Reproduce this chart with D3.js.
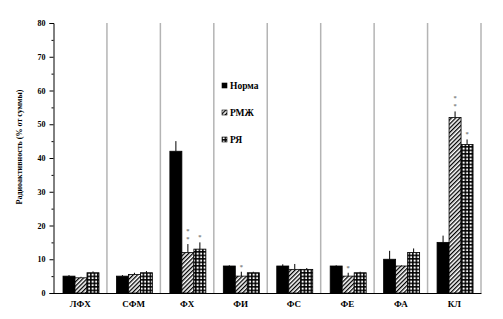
<!DOCTYPE html>
<html>
<head>
<meta charset="utf-8">
<script src="https://cdn.jsdelivr.net/npm/d3@7"></script>
<style>
  body { margin: 0; background: #fff; }
  svg text { font-family: "Liberation Serif", "Times New Roman", serif !important; font-weight: bold; }
</style>
</head>
<body>
<svg id="chart"></svg>
<script>
// data
const categories = ['ЛФХ', 'СФМ', 'ФХ', 'ФИ', 'ФС', 'ФЕ', 'ФА', 'КЛ'];
const seriesNames = ['Норма', 'РМЖ', 'РЯ'];
const norma    = [5, 5, 42, 8, 8, 8, 10, 15];
const normaErr = [0.3, 0.3, 3, 0.2, 0.5, 0.2, 2.5, 2];
const rmzh     = [4.5, 5.5, 12, 5, 7, 5, 8, 52];
const rmzhErr  = [0.3, 0.5, 2.5, 1.3, 1.6, 1, 0.2, 1.8];
const rya      = [6, 6, 13, 6, 7, 6, 12, 44];
const ryaErr   = [0.4, 0.5, 2, 0.3, 0.4, 0.3, 1.2, 1.5];
const rmzhStars = [0, 0, 2, 1, 0, 1, 0, 2];
const ryaStars  = [0, 0, 1, 0, 0, 0, 0, 1];
const yTicks = [0, 10, 20, 30, 40, 50, 60, 70, 80];

const W = 503, H = 319;
const margin = { top: 23, bottom: 26, left: 53.5, right: 22 };

const svg = d3.select('#chart').attr('width', W).attr('height', H)
  .attr('font-family', '"Liberation Serif", serif');

// patterns for the bars
const defs = svg.append('defs');
const hatch = defs.append('pattern').attr('id', 'hatch')
  .attr('patternUnits', 'userSpaceOnUse').attr('width', 3).attr('height', 3)
  .attr('patternTransform', 'rotate(45)');
hatch.append('rect').attr('width', 3).attr('height', 3).attr('fill', '#fff');
hatch.append('rect').attr('width', 1.3).attr('height', 3).attr('fill', '#000');

const dots = defs.append('pattern').attr('id', 'dots')
  .attr('patternUnits', 'userSpaceOnUse').attr('width', 3.5).attr('height', 3.5);
dots.append('rect').attr('width', 3.5).attr('height', 3.5).attr('fill', '#000');
dots.append('rect').attr('x', 0.6).attr('y', 0.6).attr('width', 2).attr('height', 2).attr('fill', '#fff');

const fills = ['#000', 'url(#hatch)', 'url(#dots)'];

const x = d3.scaleBand().domain(categories).range([margin.left, W - margin.right]);
const xSub = d3.scaleBand().domain(seriesNames).range([9.5, 45.5]);
const y = d3.scaleLinear().domain([0, 80]).range([H - margin.bottom, margin.top]);

// vertical separators
svg.append('g').selectAll('line')
  .data(categories)
  .join('line')
    .attr('x1', d => x(d) + x.bandwidth())
    .attr('x2', d => x(d) + x.bandwidth())
    .attr('y1', y(80))
    .attr('y2', y(0))
    .attr('stroke', '#b4b4b4')
    .attr('stroke-width', 1.5);

const rows = [
  { vals: norma, err: normaErr, stars: null },
  { vals: rmzh, err: rmzhErr, stars: rmzhStars },
  { vals: rya, err: ryaErr, stars: ryaStars }
];

const bars = [];
rows.forEach((r, si) => {
  categories.forEach((c, ci) => {
    bars.push({ cat: c, s: seriesNames[si], si: si, v: r.vals[ci], e: r.err[ci], n: r.stars ? r.stars[ci] : 0 });
  });
});

const g = svg.append('g');

// error bars (upper half only)
g.selectAll('.err')
  .data(bars)
  .join('line')
    .attr('class', 'err')
    .attr('x1', d => x(d.cat) + xSub(d.s) + xSub.bandwidth() / 2)
    .attr('x2', d => x(d.cat) + xSub(d.s) + xSub.bandwidth() / 2)
    .attr('y1', d => y(d.v))
    .attr('y2', d => y(d.v + d.e))
    .attr('stroke', '#000')
    .attr('stroke-width', 1);

g.selectAll('.bar')
  .data(bars)
  .join('rect')
    .attr('class', 'bar')
    .attr('x', d => x(d.cat) + xSub(d.s))
    .attr('y', d => y(d.v))
    .attr('width', xSub.bandwidth())
    .attr('height', d => y(0) - y(d.v))
    .attr('fill', d => fills[d.si])
    .attr('stroke', '#000')
    .attr('stroke-width', 0.8);

// asterisks
const stars = [];
bars.forEach(d => { for (let k = 0; k < d.n; k++) stars.push({ d: d, k: k }); });
g.selectAll('.star')
  .data(stars)
  .join('text')
    .attr('class', 'star')
    .attr('x', s => x(s.d.cat) + xSub(s.d.s) + xSub.bandwidth() / 2)
    .attr('y', s => y(s.d.v + s.d.e) - 3 - s.k * 8)
    .attr('text-anchor', 'middle')
    .attr('font-size', 6.5)
    .attr('fill', '#808080')
    .text('*');

// y axis
const yAxis = svg.append('g')
  .attr('transform', `translate(${margin.left},0)`)
  .call(d3.axisLeft(y).tickValues(yTicks).tickSize(4).tickPadding(4));
yAxis.attr('font-family', null);
yAxis.select('.domain').attr('stroke', '#000');
yAxis.selectAll('text').attr('font-size', 8);
svg.append('g')
  .attr('transform', `translate(${margin.left},0)`)
  .call(d3.axisLeft(y).tickValues(d3.range(5, 80, 10)).tickSize(2).tickFormat(''))
  .select('.domain').remove();

// x axis
const xAxis = svg.append('g')
  .attr('transform', `translate(0,${y(0)})`)
  .call(d3.axisBottom(x).tickSize(0).tickPadding(8));
xAxis.attr('font-family', null);
xAxis.select('.domain').attr('stroke', '#000').attr('stroke-width', 1.2);
xAxis.selectAll('text').attr('font-size', 9);

// y label
svg.append('text')
  .attr('transform', 'translate(22,147) rotate(-90)')
  .attr('text-anchor', 'middle')
  .attr('font-size', 8)
  .text('Радиоактивность (% от суммы)');

// legend
const legend = svg.append('g').selectAll('g')
  .data(seriesNames)
  .join('g')
    .attr('transform', (d, i) => `translate(222,${86 + i * 27})`);
legend.append('rect')
  .attr('x', 0).attr('y', -3)
  .attr('width', 5).attr('height', 5)
  .attr('fill', (d, i) => fills[i])
  .attr('stroke', '#000').attr('stroke-width', 0.6);
legend.append('text')
  .attr('x', 8).attr('y', 3)
  .attr('font-size', 9.5)
  .text(d => d);
</script>
</body>
</html>
